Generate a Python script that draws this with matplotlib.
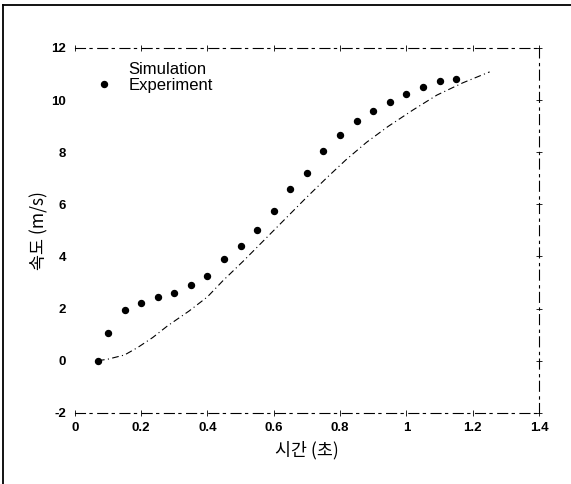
import matplotlib
matplotlib.use("Agg")
import matplotlib.pyplot as plt
from matplotlib.lines import Line2D

plt.rcParams['font.family'] = ['Liberation Sans', 'Noto Sans CJK KR', 'DejaVu Sans']
plt.rcParams['axes.unicode_minus'] = False

# --- data ---
exp_t = [0.07, 0.10, 0.15, 0.20, 0.25, 0.30, 0.35, 0.40, 0.45, 0.50, 0.55, 0.60,
         0.65, 0.70, 0.75, 0.80, 0.85, 0.90, 0.95, 1.00, 1.05, 1.10, 1.15]
exp_v = [0.0, 1.08, 1.94, 2.23, 2.45, 2.61, 2.89, 3.26, 3.92, 4.39, 5.03, 5.75,
         6.60, 7.22, 8.06, 8.65, 9.21, 9.59, 9.91, 10.22, 10.51, 10.73, 10.82]

sim_t = [0.07, 0.10, 0.15, 0.19, 0.235, 0.28, 0.345, 0.40, 0.446, 0.508,
         0.697, 0.76, 0.818, 0.88, 0.944, 1.02, 1.092, 1.17, 1.251]
sim_v = [0.0, 0.06, 0.22, 0.51, 0.89, 1.34, 1.91, 2.45, 3.06, 3.82,
         6.24, 7.02, 7.71, 8.38, 8.98, 9.62, 10.19, 10.66, 11.08]

xticks = [0, 0.2, 0.4, 0.6, 0.8, 1, 1.2, 1.4]
xtick_labels = ['0', '0.2', '0.4', '0.6', '0.8', '1', '1.2', '1.4']
yticks = [-2, 0, 2, 4, 6, 8, 10, 12]

fig = plt.figure(figsize=(5.71, 4.84), dpi=100)
ax = fig.add_axes([0.131, 0.147, 0.813, 0.754])

ax.plot(sim_t, sim_v, color='black', lw=0.8,
        linestyle=(0, (6, 3, 1, 3)), label='Simulation')
ax.plot(exp_t, exp_v, 'o', color='black', ms=4.3, label='Experiment')

ax.set_xlim(0, 1.4)
ax.set_ylim(-2, 12)
ax.set_xticks(xticks)
ax.set_xticklabels(xtick_labels)
ax.set_yticks(yticks)

# scanned frame: left axis line lost, others broken
ax.spines['left'].set_visible(False)
for side in ['top', 'right', 'bottom']:
    ax.spines[side].set_linewidth(0.8)
    ax.spines[side].set_linestyle((0, (9, 4, 2, 5)))

ax.tick_params(axis='both', which='both', labelsize=9.5, direction='inout',
               length=5, width=0.6, pad=4)
ax.tick_params(axis='y', left=False, right=True)
ax.tick_params(axis='x', top=True, bottom=True)
for lab in ax.get_xticklabels() + ax.get_yticklabels():
    lab.set_fontweight('bold')

ax.set_xlabel('시간 (초)', fontsize=12.5, labelpad=5, family=['Noto Sans CJK KR'])
ax.set_ylabel('속도 (m/s)', fontsize=12.5, labelpad=2, family=['Noto Sans CJK KR'])

leg = ax.legend(loc='upper left', bbox_to_anchor=(0.02, 0.98), frameon=False,
                fontsize=12, handlelength=1.6, handletextpad=0.65,
                labelspacing=0.05, borderaxespad=0)
leg.legend_handles[0].set_visible(False)

# page border from the scan
fig.add_artist(Line2D([0.006, 0.006], [0.0, 0.99], color='black', lw=1.3))
fig.add_artist(Line2D([0.006, 1.0], [0.99, 0.99], color='black', lw=1.3))

fig.savefig('out.png', dpi=100)
